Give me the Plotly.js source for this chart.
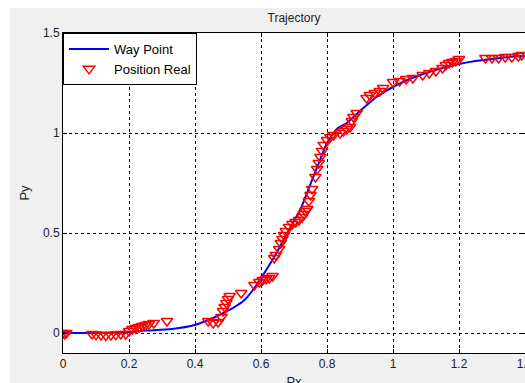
<!DOCTYPE html>
<html>
<head>
<meta charset="utf-8">
<script src="https://cdn.plot.ly/plotly-3.0.1.min.js"></script>
<style>
  html, body { margin: 0; padding: 0; background: #ffffff; overflow: hidden; width: 525px; height: 383px; }
  #chart { position: absolute; left: 10px; top: 8px; width: 540px; height: 400px; }
</style>
</head>
<body>
<div id="chart"></div>
<script>
// Way point (reference trajectory)
const wayX = [0, 0.1, 0.2, 0.25, 0.33, 0.4, 0.44, 0.48, 0.52, 0.55, 0.58, 0.61, 0.64, 0.67, 0.70, 0.72, 0.75, 0.78, 0.80, 0.83, 0.86, 0.90, 0.95, 1.0, 1.05, 1.10, 1.15, 1.20, 1.25, 1.30, 1.35, 1.40];
const wayY = [0, 0, 0.005, 0.012, 0.02, 0.04, 0.065, 0.095, 0.13, 0.165, 0.225, 0.30, 0.38, 0.47, 0.56, 0.62, 0.745, 0.87, 0.95, 1.02, 1.05, 1.11, 1.18, 1.23, 1.27, 1.30, 1.325, 1.345, 1.36, 1.37, 1.38, 1.385];

// Measured positions
const realX = [0, 0.005, 0.01,
  0.088, 0.1, 0.115, 0.13, 0.145, 0.16, 0.175, 0.19,
  0.2, 0.21, 0.22, 0.23, 0.24, 0.25, 0.26, 0.275, 0.315,
  0.44, 0.455, 0.47, 0.48, 0.485, 0.49, 0.495, 0.5, 0.505, 0.54,
  0.58, 0.595, 0.605, 0.615, 0.625, 0.635,
  0.64, 0.645, 0.655, 0.66, 0.665, 0.67, 0.675,
  0.685, 0.695, 0.705, 0.715, 0.725, 0.73, 0.735, 0.74,
  0.745, 0.75, 0.755, 0.765, 0.77, 0.775, 0.78, 0.785, 0.79, 0.80, 0.81, 0.82,
  0.84, 0.85, 0.86, 0.87, 0.875, 0.88, 0.89, 0.92, 0.93, 0.945, 0.96,
  0.97, 1.0, 1.02, 1.04, 1.06, 1.09, 1.11, 1.13, 1.15, 1.16, 1.17, 1.18, 1.19, 1.2,
  1.28, 1.30, 1.32, 1.34, 1.36, 1.38, 1.39];
const realY = [0, -0.005, 0,
  -0.005, -0.008, -0.01, -0.012, -0.01, -0.008, -0.005, -0.005,
  0.01, 0.02, 0.025, 0.03, 0.035, 0.04, 0.045, 0.05, 0.06,
  0.06, 0.05, 0.055, 0.08, 0.11, 0.13, 0.15, 0.17, 0.185, 0.2,
  0.24, 0.255, 0.265, 0.27, 0.275, 0.285,
  0.375, 0.39, 0.42, 0.45, 0.47, 0.49, 0.51,
  0.53, 0.545, 0.555, 0.565, 0.58, 0.595, 0.61, 0.62,
  0.66, 0.69, 0.72, 0.78, 0.82, 0.85, 0.88, 0.91, 0.94, 0.965, 0.98, 0.99,
  1.0, 1.01, 1.02, 1.03, 1.06, 1.08, 1.1, 1.175, 1.19, 1.2, 1.21,
  1.225, 1.255, 1.26, 1.27, 1.275, 1.29, 1.30, 1.31, 1.325, 1.34, 1.35, 1.355, 1.36, 1.37,
  1.375, 1.375, 1.375, 1.38, 1.38, 1.385, 1.39];

const xTicks = [0, 0.2, 0.4, 0.6, 0.8, 1, 1.2, 1.4];
const xTickText = ['0', '0.2', '0.4', '0.6', '0.8', '1', '1.2', '1.4'];
const yTicks = [0, 0.5, 1, 1.5];
const yTickText = ['0', '0.5', '1', '1.5'];

const traces = [
  {
    x: wayX, y: wayY, type: 'scatter', mode: 'lines', name: 'Way Point',
    line: { color: '#0000ff', width: 2, shape: 'spline', smoothing: 0.6 }
  },
  {
    x: realX, y: realY, type: 'scatter', mode: 'markers', name: 'Position Real',
    marker: { symbol: 'triangle-down-open', size: 10, color: '#ff0000', line: { width: 1.5, color: '#ff0000' } }
  }
];

const axisCommon = {
  showline: true, linecolor: '#000', linewidth: 1, mirror: 'ticks',
  ticks: 'inside', ticklen: 4, tickcolor: '#000',
  showgrid: true, gridcolor: '#000', gridwidth: 1, griddash: 'dot',
  zeroline: false,
  tickfont: { family: 'Liberation Sans, Arial, sans-serif', size: 12, color: '#222' }
};

const layout = {
  width: 540, height: 400,
  paper_bgcolor: '#f0f0f0', plot_bgcolor: '#ffffff',
  margin: { l: 53, r: 25, t: 25, b: 55 },
  showlegend: true,
  title: { text: 'Trajectory', x: 0.5, xref: 'paper', y: 0.985, yanchor: 'top',
           font: { family: 'Liberation Sans, Arial, sans-serif', size: 12, color: '#222' } },
  xaxis: Object.assign({}, axisCommon, {
    range: [0, 1.4], tickvals: xTicks, ticktext: xTickText,
    title: { text: 'Px', standoff: 6, font: { family: 'Liberation Sans, Arial, sans-serif', size: 13, color: '#222' } }
  }),
  yaxis: Object.assign({}, axisCommon, {
    range: [-0.1, 1.5], tickvals: yTicks, ticktext: yTickText,
    title: { text: 'Py', standoff: 10, font: { family: 'Liberation Sans, Arial, sans-serif', size: 13, color: '#222' } }
  }),
  legend: {
    x: 0, y: 1, xanchor: 'left', yanchor: 'top',
    bgcolor: '#ffffff', bordercolor: '#000', borderwidth: 1,
    font: { family: 'Liberation Sans, Arial, sans-serif', size: 13, color: '#000' },
    tracegroupgap: 0, itemwidth: 40
  }
};

Plotly.newPlot('chart', traces, layout, { displayModeBar: false, staticPlot: true });
</script>
</body>
</html>
